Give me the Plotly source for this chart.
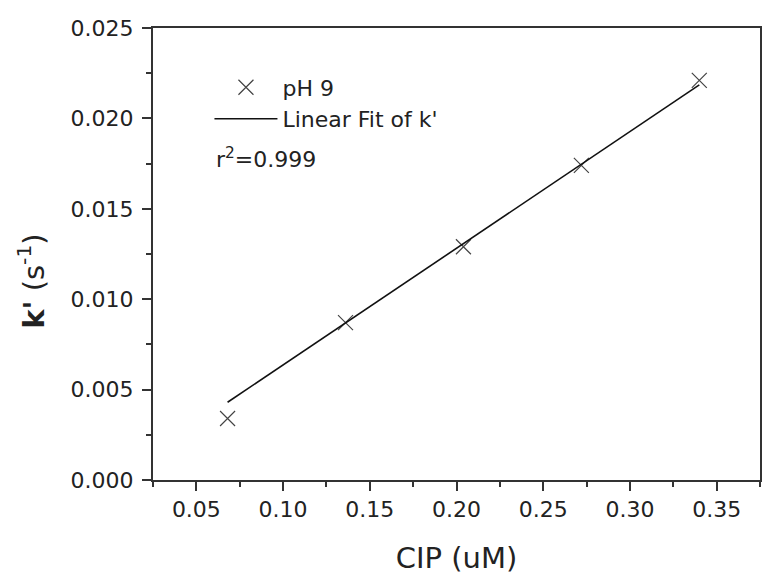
import plotly.graph_objects as go

# Data
cip = [0.068, 0.136, 0.204, 0.272, 0.340]
k_prime = [0.0034, 0.0087, 0.0129, 0.0174, 0.0221]
fit_x = [0.068, 0.340]
fit_y = [0.0043, 0.02185]

x_range = [0.025, 0.375]
y_range = [0.0, 0.025]
x_ticks = [0.05, 0.10, 0.15, 0.20, 0.25, 0.30, 0.35]
y_ticks = [0.000, 0.005, 0.010, 0.015, 0.020, 0.025]

FONT = "DejaVu Sans"
AX = "#333333"
TXT = "#222222"

fig = go.Figure()
fig.add_trace(go.Scatter(
    x=cip, y=k_prime, mode="markers", name="pH 9",
    marker=dict(symbol="x-thin-open", size=15, color="#444444",
                line=dict(width=1.2, color="#444444")),
))
fig.add_trace(go.Scatter(
    x=fit_x, y=fit_y, mode="lines", name="Linear Fit of k'",
    line=dict(color="#111111", width=1.6),
))

fig.update_layout(
    width=764, height=579,
    margin=dict(l=153, r=2, t=28, b=99),
    paper_bgcolor="white", plot_bgcolor="white",
    font=dict(family=FONT, size=22, color=TXT),
    showlegend=True,
    legend=dict(x=0.093, y=0.915, xanchor="left", yanchor="top",
                bgcolor="rgba(0,0,0,0)", font=dict(size=22, family=FONT, color=TXT),
                tracegroupgap=0, itemwidth=63),
    xaxis=dict(
        range=x_range, tickvals=x_ticks, ticktext=[f"{v:.2f}" for v in x_ticks],
        showgrid=False, zeroline=False,
        showline=True, linecolor=AX, linewidth=2, mirror=True,
        ticks="outside", ticklen=9, tickwidth=2, tickcolor=AX,
        minor=dict(dtick=0.025, tick0=0.025, ticks="outside", ticklen=5, tickwidth=2, tickcolor=AX),
        tickfont=dict(size=22, family=FONT, color=TXT),
        title=dict(text="CIP (uM)", font=dict(size=29, family=FONT, color=TXT), standoff=26),
    ),
    yaxis=dict(
        range=y_range, tickvals=y_ticks, ticktext=[f"{v:.3f}" for v in y_ticks],
        showgrid=False, zeroline=False,
        showline=True, linecolor=AX, linewidth=2, mirror=True,
        ticks="outside", ticklen=9, tickwidth=2, tickcolor=AX,
        minor=dict(dtick=0.0025, tick0=0, ticks="outside", ticklen=5, tickwidth=2, tickcolor=AX),
        tickfont=dict(size=22, family=FONT, color=TXT),
        ticklabelstandoff=4,
    ),
    xaxis2=dict(
        overlaying="x", side="top", anchor="y", range=x_range, tickvals=x_ticks,
        showticklabels=False, showgrid=False, zeroline=False, showline=False,
        ticks="inside", ticklen=9, tickwidth=2, tickcolor=AX,
        minor=dict(dtick=0.025, tick0=0.025, ticks="inside", ticklen=5, tickwidth=2, tickcolor=AX),
    ),
    yaxis2=dict(
        overlaying="y", side="right", anchor="x", range=y_range, tickvals=y_ticks,
        showticklabels=False, showgrid=False, zeroline=False, showline=False,
        ticks="inside", ticklen=9, tickwidth=2, tickcolor=AX,
        minor=dict(dtick=0.0025, tick0=0, ticks="inside", ticklen=5, tickwidth=2, tickcolor=AX),
    ),
    annotations=[
        dict(text="r<sup>2</sup>=0.999", xref="paper", yref="paper", x=0.1, y=0.712,
             xanchor="left", yanchor="middle", showarrow=False,
             font=dict(size=22, family=FONT, color=TXT)),
        dict(text="<b>k'</b> (s<sup>-1</sup>)", xref="paper", yref="paper",
             x=-0.2, y=0.44, xanchor="center", yanchor="middle", textangle=-90,
             showarrow=False, font=dict(size=29, family=FONT, color=TXT)),
    ],
)

fig.write_html(
    "out.html",
    config={"displayModeBar": False},
    post_script="document.body.style.margin='0';document.body.style.overflow='hidden';",
)
